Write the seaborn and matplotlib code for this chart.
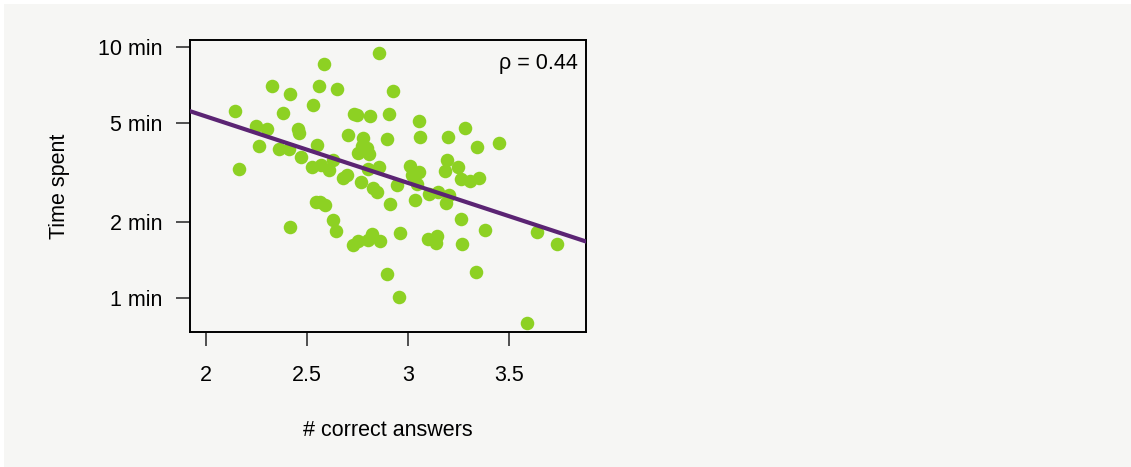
import numpy as np
import pandas as pd
import seaborn as sns
import matplotlib.pyplot as plt
from matplotlib.patches import Rectangle

# data: score vs. minutes spent
correct = [2.855, 2.586, 2.325, 2.414, 2.561, 2.649, 2.927, 2.145, 2.380, 2.528,
           2.734, 2.748, 2.813, 2.907, 2.248, 2.300, 2.455, 2.460, 2.701, 2.776,
           2.895, 2.262, 2.363, 2.409, 2.548, 2.469, 2.771, 2.796, 2.751, 2.808,
           2.162, 2.525, 2.571, 2.610, 2.630, 2.680, 2.700, 2.767, 2.803, 2.855,
           2.825, 2.845,
           3.054, 3.058, 3.197, 3.282, 3.340, 3.449, 3.193, 3.185, 3.246, 3.011,
           3.053, 3.020, 2.944, 3.043, 3.262, 3.308, 3.351, 3.104, 3.150, 3.203,
           2.545, 2.564, 2.591, 2.913, 2.414, 2.629, 2.645, 2.728, 2.754, 2.800,
           2.822, 2.863, 2.899,
           3.033, 3.188, 3.261, 2.960, 3.102, 3.142, 3.139, 3.266, 3.381, 3.639,
           3.736, 3.335, 2.957, 3.589]
minutes = [9.46, 8.60, 7.02, 6.49, 6.99, 6.80, 6.72, 5.55, 5.48, 5.87,
           5.40, 5.37, 5.33, 5.43, 4.85, 4.70, 4.73, 4.56, 4.48, 4.36,
           4.32, 4.03, 3.92, 3.93, 4.07, 3.65, 4.02, 3.98, 3.80, 3.74,
           3.27, 3.32, 3.39, 3.24, 3.54, 3.01, 3.09, 2.91, 3.28, 3.32,
           2.75, 2.64,
           5.06, 4.40, 4.39, 4.76, 4.01, 4.14, 3.56, 3.21, 3.32, 3.35,
           3.18, 3.09, 2.81, 2.84, 2.99, 2.93, 3.00, 2.60, 2.64, 2.57,
           2.41, 2.41, 2.34, 2.37, 1.92, 2.04, 1.85, 1.63, 1.68, 1.70,
           1.80, 1.69, 1.24,
           2.46, 2.39, 2.07, 1.81, 1.71, 1.76, 1.65, 1.64, 1.86, 1.83,
           1.64, 1.27, 1.01, 0.79]

# fitted line (log10 minutes ~ score)
fit_intercept = 1.255
fit_slope = -0.2654
rho_text = "\u03c1 = 0.44"

y_ticks = [1, 2, 5, 10]
y_labels = ["1 min", "2 min", "5 min", "10 min"]
x_ticks = [2, 2.5, 3, 3.5]
x_labels = ["2", "2.5", "3", "3.5"]

df = pd.DataFrame({"correct": correct, "minutes": minutes})

bg = "#f6f6f4"
sns.set_theme(style="ticks", rc={"text.color": "black", "axes.labelcolor": "black",
                                 "xtick.labelcolor": "black", "ytick.labelcolor": "black"})
plt.rcParams["font.family"] = ["Liberation Sans", "DejaVu Sans"]

fig = plt.figure(figsize=(11.31, 4.67), dpi=100, facecolor="white")
fig.patches.append(Rectangle((4 / 1131, 0), 1, 463 / 467, transform=fig.transFigure,
                             facecolor=bg, edgecolor="none", zorder=-10))
ax = fig.add_axes([190 / 1131, 1 - 332 / 467, 396 / 1131, 292 / 467])
ax.set_facecolor(bg)

sns.scatterplot(data=df, x="correct", y="minutes", ax=ax, color="#8dd123",
                s=95, linewidth=0, zorder=2)
xs = np.array([1.9, 3.9])
ax.plot(xs, 10 ** (fit_intercept + fit_slope * xs), color="#5b2473", lw=3, zorder=3)

ax.set_yscale("log")
ax.set_xlim(1.921, 3.882)
ax.set_ylim(0.73, 10.7)
ax.set_yticks(y_ticks)
ax.set_yticklabels(y_labels)
ax.minorticks_off()
ax.set_xticks(x_ticks)
ax.set_xticklabels(x_labels)
ax.tick_params(axis="both", labelsize=15.5, length=10, width=1.1, color="#222222",
               labelcolor="black")
ax.tick_params(axis="x", pad=14)
ax.tick_params(axis="y", pad=10)
for sp in ax.spines.values():
    sp.set_color("black")
    sp.set_linewidth(1.4)

ax.set_xlabel("# correct answers", fontsize=15.5, labelpad=24, color="black")
ax.set_ylabel("Time spent", fontsize=15.5, labelpad=20, color="black")
ax.text(0.98, 0.955, rho_text, transform=ax.transAxes, ha="right", va="top",
        fontsize=15.5, color="black")

fig.savefig("out.png", dpi=100, facecolor="white")
